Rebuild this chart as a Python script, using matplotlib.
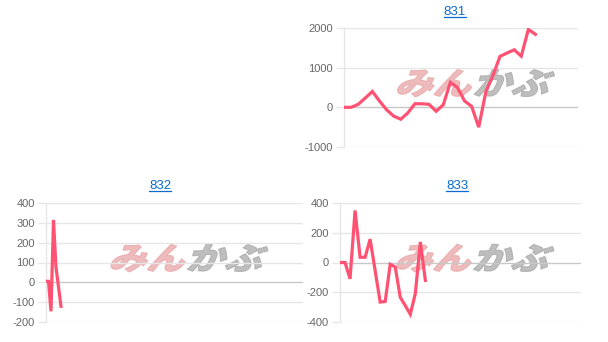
import numpy as np
import matplotlib
matplotlib.use("Agg")
import matplotlib.pyplot as plt
from matplotlib.textpath import TextPath
from matplotlib.patches import PathPatch
from matplotlib.font_manager import FontProperties
from matplotlib.transforms import Affine2D
from matplotlib.lines import Line2D

plt.rcParams['font.family'] = ['Liberation Sans', 'DejaVu Sans']

# data
vals_831 = [0, 0, 75, 235, 400, 160, -60, -220, -300, -140, 90, 90, 75, -100,
            65, 630, 500, 160, 25, -500, 390, 800, 1285, 1370, 1450, 1290,
            1965, 1840]
vals_832 = [5, 5, -146, 315, 77, -22, -121]
vals_833 = [0, 0, -110, 350, 35, 35, 157, -55, -266, -262, -12, -30, -234,
            -290, -348, -210, 138, -120]

titles = ["831", "832", "833"]
n_cats = [34, 104, 49]
y_ticks = [[-1000, 0, 1000, 2000],
           [-200, -100, 0, 100, 200, 300, 400],
           [-400, -200, 0, 200, 400]]

W, H = 608, 342
fig = plt.figure(figsize=(W / 100, H / 100), dpi=100)

# axes boxes in pixels: left, top, right, bottom
boxes = [(344, 28, 578, 147), (46, 203, 303, 322), (340, 203, 581, 322)]
title_pos = [(455, 12), (160, 186), (457, 186)]
series = [vals_831, vals_832, vals_833]

line_col = '#ff5273'
grid_col = '#e6e6e6'
zero_col = '#c8c8c8'


def watermark(cx, cy):
    fp = FontProperties(family='Noto Sans CJK JP', weight='black')
    parts = [("みん", '#e8a4a6'), ("かぶ", '#a8a8a8')]
    size = 40
    paths = [TextPath((0, 0), s, size=size, prop=fp) for s, _ in parts]
    widths = [p.get_extents().x1 for p in paths]
    gap = 3
    sx = 0.95
    total = (sum(widths) + gap) * sx
    x0 = cx - total / 2
    for p, (s, c), w in zip(paths, parts, widths):
        tr = Affine2D().scale(sx, 0.78).skew_deg(20, 0).translate(x0, H - cy - 13)
        patch = PathPatch(tr.transform_path(p), facecolor=c, edgecolor=c,
                          lw=0.8, alpha=0.75, transform=None, zorder=1)
        fig.patches.append(patch)
        x0 += (w + gap) * sx


for (l, t, r, b), vals, ticks, n, title, (tx, ty) in zip(
        boxes, series, y_ticks, n_cats, titles, title_pos):
    ax = fig.add_axes([l / W, 1 - b / H, (r - l) / W, (b - t) / H])
    ax.set_facecolor('none')
    ax.set_zorder(2)
    ax.plot(np.arange(len(vals)), vals, color=line_col, lw=2.3,
            solid_joinstyle='miter', zorder=3)
    ax.set_xlim(0, n - 1)
    ax.set_ylim(ticks[0], ticks[-1])
    ax.set_yticks(ticks)
    ax.set_yticklabels([str(v) for v in ticks])
    ax.set_xticks([])
    for s in ['top', 'right', 'bottom']:
        ax.spines[s].set_visible(False)
    ax.spines['left'].set_color(grid_col)
    ax.spines['left'].set_linewidth(1)
    for v in ticks:
        ax.axhline(v, color=zero_col if v == 0 else grid_col, lw=1, zorder=1)
    ax.tick_params(axis='y', length=6, width=1, color=grid_col, pad=2,
                   labelsize=8, labelcolor='#666666')
    ax.set_axisbelow(True)

    txt = fig.text(tx / W, 1 - ty / H, title, ha='center', va='center',
                   fontsize=9.5, color='#0a6bd0')
    fig.canvas.draw()
    bb = txt.get_window_extent()
    fig.add_artist(Line2D([bb.x0 / W, bb.x1 / W],
                          [(bb.y0 + 1.5) / H, (bb.y0 + 1.5) / H],
                          color='#0a6bd0', lw=0.9))
    watermark((l + r) / 2 + 10, (t + b) / 2 - 6)

fig.savefig("out.png", dpi=100)
